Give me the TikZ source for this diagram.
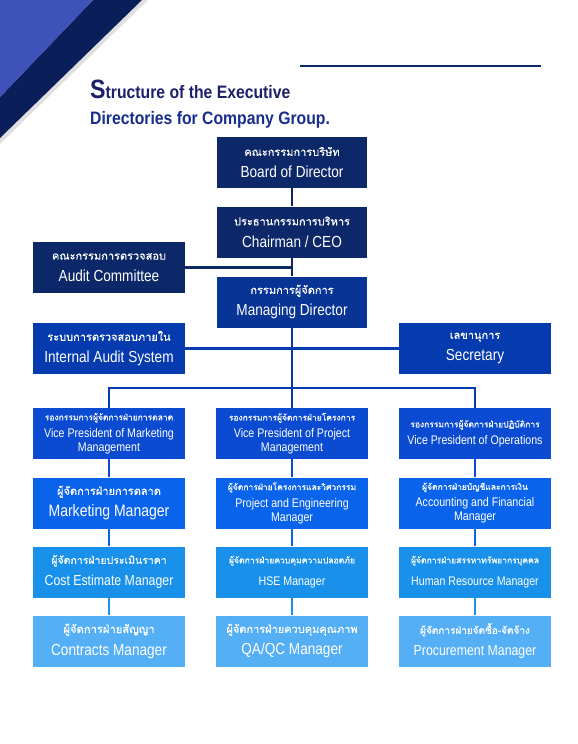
\documentclass[tikz,border=0pt]{standalone}
\usepackage{fontspec}
\setmainfont{Liberation Sans}[FakeStretch=0.85]
\newfontfamily\titlefont{Liberation Sans Bold}[FakeStretch=0.875]
\newfontfamily\thaifont[Script=Thai,FakeBold=0.5]{Loma}
\definecolor{navy}{RGB}{12,40,105}
\definecolor{darkband}{RGB}{10,30,90}
\definecolor{lightband}{RGB}{62,82,185}
\definecolor{mdblue}{RGB}{8,52,150}
\definecolor{iasblue}{RGB}{6,58,175}
\definecolor{vpblue}{RGB}{10,75,210}
\definecolor{mone}{RGB}{10,100,235}
\definecolor{mtwo}{RGB}{25,145,235}
\definecolor{mthree}{RGB}{85,175,245}
\definecolor{titleA}{RGB}{28,32,105}
\definecolor{titleB}{RGB}{25,45,140}
\newcommand{\thtxt}[2]{{\thaifont\fontsize{#1}{#1}\selectfont #2}}
\newcommand{\entxt}[2]{{\fontsize{#1}{#1}\selectfont #2}}
\begin{document}
\begin{tikzpicture}[x=1pt,y=-1pt,
  box/.style={rectangle, minimum width=152pt, minimum height=51pt, inner sep=0pt,
    align=center, text=white, font=\fontsize{12}{22}\selectfont},
  vpbox/.style={box, font=\fontsize{12}{14}\selectfont},
  conn/.style={line width=2.6pt}]
\useasboundingbox (0,0) rectangle (578,744);
% corner bands
\fill[black!12] (142,0) -- (148,0) -- (0,144) -- (0,138) -- cycle;
\fill[darkband] (93,0) -- (142,0) -- (0,138) -- (0,97) -- cycle;
\fill[lightband] (0,0) -- (93,0) -- (0,97) -- cycle;
% top rule
\draw[navy, line width=1.4pt] (300,66) -- (541,66);
% title
\node[anchor=base west, inner sep=0pt, text=titleA] (t1) at (90,98)
  {\titlefont\fontsize{26.5}{26}\selectfont S\fontsize{18}{18}\selectfont tructure of the Executive};
\node[anchor=base west, inner sep=0pt, text=titleB] (t2) at (90,124)
  {\titlefont\fontsize{18}{18}\selectfont Directories for Company Group.};
\coordinate (busL) at (109,388);
\coordinate (busR) at (475,388);
% boxes
\node[box, fill=navy, minimum width=150pt] (board) at (292,162.5)
  {\thtxt{11}{คณะกรรมการบริษัท}\\\entxt{16}{Board of Director}};
\node[box, fill=navy, minimum width=150pt] (chair) at (292,232)
  {\thtxt{11}{ประธานกรรมการบริหาร}\\\entxt{16}{Chairman / CEO}};
\node[box, fill=mdblue, minimum width=150pt] (md) at (292,302)
  {\thtxt{11}{กรรมการผู้จัดการ}\\\entxt{16}{Managing Director}};
\node[box, fill=navy] (audit) at (109,267.5)
  {\thtxt{11}{คณะกรรมการตรวจสอบ}\\\entxt{16}{Audit Committee}};
\node[box, fill=iasblue] (ias) at (109,348.5)
  {\thtxt{11}{ระบบการตรวจสอบภายใน}\\\entxt{16}{Internal Audit System}};
\node[box, fill=iasblue] (sec) at (475,348.5)
  {\thtxt{11}{เลขานุการ}\\\entxt{16}{Secretary}};
% VP row
\node[vpbox, fill=vpblue] (vpm) at (109,433.5)
  {\thtxt{8.5}{รองกรรมการผู้จัดการฝ่ายการตลาด}\\[3pt]\entxt{12.5}{Vice President of Marketing}\\\entxt{12.5}{Management}};
\node[vpbox, fill=vpblue] (vpp) at (292,433.5)
  {\thtxt{8.5}{รองกรรมการผู้จัดการฝ่ายโครงการ}\\[3pt]\entxt{12.5}{Vice President of Project}\\\entxt{12.5}{Management}};
\node[vpbox, fill=vpblue] (vpo) at (475,433.5)
  {\thtxt{8.5}{รองกรรมการผู้จัดการฝ่ายปฏิบัติการ}\\[3pt]\entxt{12.5}{Vice President of Operations}};
% manager row 1
\node[box, fill=mone] (mm) at (109,503)
  {\thtxt{11}{ผู้จัดการฝ่ายการตลาด}\\\entxt{16.5}{Marketing Manager}};
\node[vpbox, fill=mone] (pe) at (292,503)
  {\thtxt{8.5}{ผู้จัดการฝ่ายโครงการและวิศวกรรม}\\[3pt]\entxt{12.5}{Project and Engineering}\\\entxt{12.5}{Manager}};
\node[vpbox, fill=mone] (af) at (475,503)
  {\thtxt{8.5}{ผู้จัดการฝ่ายบัญชีและการเงิน}\\[3pt]\entxt{12.5}{Accounting and Financial}\\\entxt{12.5}{Manager}};
% manager row 2
\node[box, fill=mtwo] (ce) at (109,572)
  {\thtxt{10.5}{ผู้จัดการฝ่ายประเมินราคา}\\\entxt{14.5}{Cost Estimate Manager}};
\node[box, fill=mtwo] (hse) at (292,572)
  {\thtxt{8.6}{ผู้จัดการฝ่ายควบคุมความปลอดภัย}\\\entxt{12.5}{HSE Manager}};
\node[box, fill=mtwo] (hr) at (475,572)
  {\thtxt{8.6}{ผู้จัดการฝ่ายสรรหาทรัพยากรบุคคล}\\\entxt{12.5}{Human Resource Manager}};
% manager row 3
\node[box, fill=mthree] (ct) at (109,641)
  {\thtxt{11.2}{ผู้จัดการฝ่ายสัญญา}\\\entxt{16}{Contracts Manager}};
\node[box, fill=mthree] (qa) at (292,641)
  {\thtxt{11}{ผู้จัดการฝ่ายควบคุมคุณภาพ}\\\entxt{16}{QA/QC Manager}};
\node[box, fill=mthree] (pr) at (475,641)
  {\thtxt{10}{ผู้จัดการฝ่ายจัดซื้อ-จัดจ้าง}\\\entxt{14.5}{Procurement Manager}};
% connectors
\draw[conn, navy] (board.south) -- (chair.north);
\draw[conn, navy] (chair.south) -- (md.north);
\draw[conn, navy] (audit.east) -- (audit.east -| md.north);
\draw[conn, iasblue] (ias.east) -- (sec.west);
\draw[conn, iasblue] (md.south) -- (vpp.north);
\draw[conn, iasblue] (vpm.north) -- (busL) -- (busR) -- (vpo.north);
\foreach \a/\b in {vpm/mm, vpp/pe, vpo/af}
  \draw[conn, vpblue] (\a.south) -- (\b.north);
\foreach \a/\b in {mm/ce, pe/hse, af/hr}
  \draw[conn, mone] (\a.south) -- (\b.north);
\foreach \a/\b in {ce/ct, hse/qa, hr/pr}
  \draw[conn, mtwo] (\a.south) -- (\b.north);
\end{tikzpicture}
\end{document}
